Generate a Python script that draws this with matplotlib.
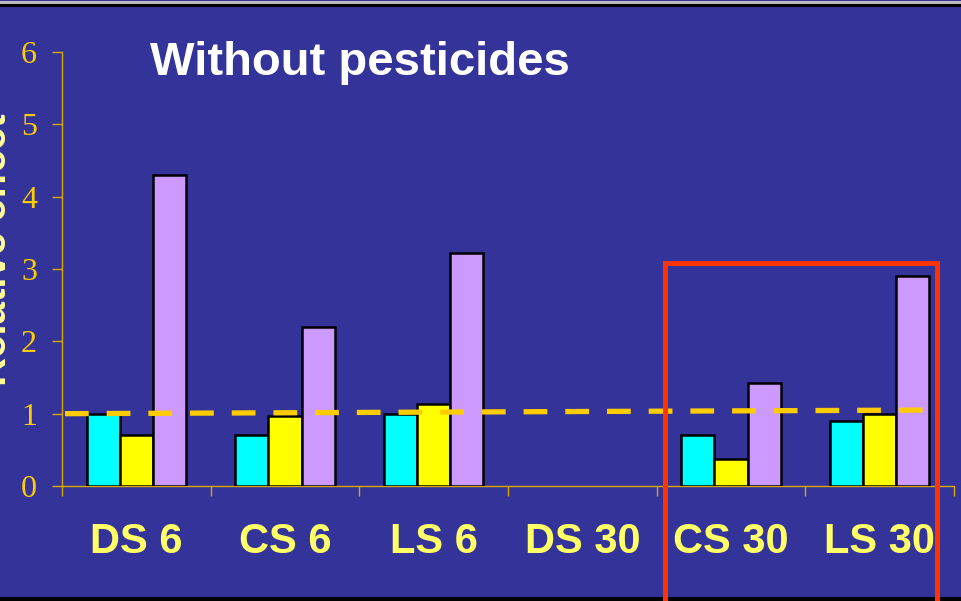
import matplotlib
matplotlib.use("Agg")
import matplotlib.pyplot as plt
from matplotlib.lines import Line2D
import numpy as np

categories = ["DS 6", "CS 6", "LS 6", "DS 30", "CS 30", "LS 30"]
series_cyan = [1.0, 0.7, 1.0, None, 0.7, 0.9]
series_yellow = [0.7, 0.97, 1.13, None, 0.37, 0.99]
series_purple = [4.3, 2.2, 3.22, None, 1.42, 2.9]
yticks = [0, 1, 2, 3, 4, 5, 6]
ref_x = [0.02, 5.84]
ref_y = [1.0, 1.05]
title = "Without pesticides"
ylabel = "Relative effect"

BG = "#333399"
AXC = "#D9A800"

fig = plt.figure(figsize=(9.61, 6.01), dpi=100, facecolor=BG)
ax = fig.add_axes([62/961, 1-486/601, (954-62)/961, (486-52)/601])
ax.set_facecolor(BG)

centers = np.arange(len(categories)) + 0.5
w = 0.222
for off, vals, col in [(-w, series_cyan, "#00FFFF"), (0, series_yellow, "#FFFF00"), (w, series_purple, "#CC99FF")]:
    xs = [c + off for c, v in zip(centers, vals) if v is not None]
    hs = [v for v in vals if v is not None]
    ax.bar(xs, hs, width=w, color=col, edgecolor="black", linewidth=1.8, zorder=3)

ax.plot(ref_x, ref_y, color="#FFCC00", linewidth=3.8, dashes=(4.5, 3.4),
        solid_capstyle="butt", dash_capstyle="butt", zorder=4)

ax.set_xlim(0, len(categories))
ax.set_ylim(0, 6)
for s in ["top", "right"]:
    ax.spines[s].set_visible(False)
for s in ["left", "bottom"]:
    ax.spines[s].set_color(AXC)
    ax.spines[s].set_linewidth(1.0)

ax.set_yticks(yticks)
ax.set_yticklabels([str(t) for t in yticks], family="Liberation Serif", fontsize=23, color="#FFCC00")
ax.tick_params(axis="y", direction="out", length=7, width=1.0, color=AXC, pad=11)

ax.set_xticks(np.arange(len(categories) + 1))
ax.set_xticklabels([])
ax.tick_params(axis="x", which="major", direction="out", length=7, width=1.0, color=AXC)
ax.set_xticks(centers, minor=True)
ax.set_xticklabels(categories, minor=True, family="Liberation Sans", fontweight="bold",
                   fontsize=30, color="#FFFF66")
ax.tick_params(axis="x", which="minor", length=0, pad=26)

fig.text(150/961, 1-63/601, title, family="Liberation Sans", fontweight="bold",
         fontsize=34, color="white", ha="left", va="center")

fig.text(0.0145, 1-250/601, ylabel, family="Liberation Sans", fontweight="bold",
         fontsize=29, color="#FFFF99", rotation=90, ha="right", va="center")

# highlight box (open at bottom)
bx0, bx1, by_top, by_bot = 4.055, 5.884, 3.08, -1.8
ax.add_line(Line2D([bx0, bx0, bx1, bx1], [by_bot, by_top, by_top, by_bot],
                   color="#FF3300", linewidth=3.6, clip_on=False, zorder=6,
                   solid_joinstyle="miter"))

# slide borders
fig.add_artist(Line2D([0, 1], [1-1.5/601, 1-1.5/601], color="#BBBBBB", linewidth=2.2, transform=fig.transFigure))
fig.add_artist(Line2D([0, 1], [1-5/601, 1-5/601], color="black", linewidth=2.2, transform=fig.transFigure))
fig.add_artist(Line2D([0, 1], [2/601, 2/601], color="black", linewidth=3, transform=fig.transFigure, zorder=0))

fig.savefig("out.png", dpi=100, facecolor=BG)
